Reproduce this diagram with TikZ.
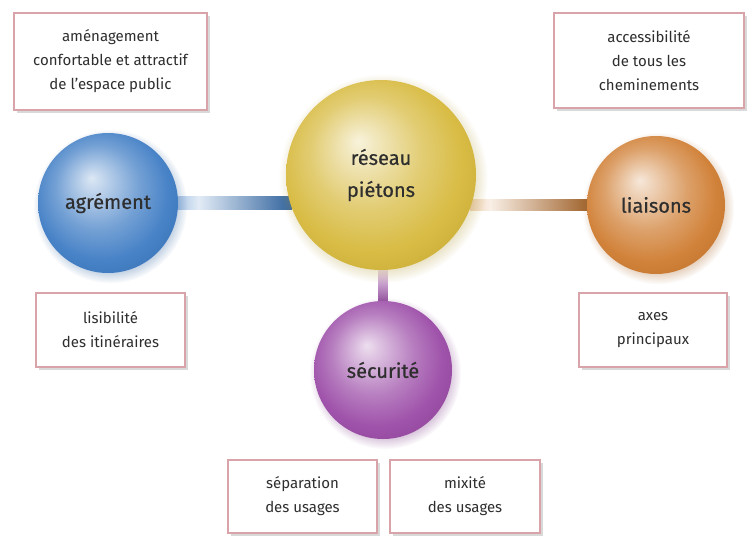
\documentclass[tikz,border=0pt]{standalone}
\usepackage{fontspec}
\setmainfont{Fira Sans}
\newfontfamily\sphfont{Fira Sans}[FakeBold=0.5]
\usetikzlibrary{shadows,backgrounds,calc}
\definecolor{cblue}{HTML}{3E7CC4}
\definecolor{cyel}{HTML}{D6B83A}
\definecolor{corange}{HTML}{CF7C30}
\definecolor{cpurple}{HTML}{9A4AA6}
\definecolor{cborder}{HTML}{D9A3AA}
\definecolor{ctext}{HTML}{2E2E2E}
\newcommand\mksph[2]{\pgfdeclareradialshading{#1}{\pgfpoint{-6bp}{9bp}}{color(0bp)=(#2!18!white); color(6bp)=(#2!40!white); color(15bp)=(#2!72!white); color(24bp)=(#2!95!white); color(33bp)=(#2!92!black); color(40bp)=(#2!85!black)}}
\mksph{sphblue}{cblue}
\mksph{sphyel}{cyel}
\mksph{sphorange}{corange}
\mksph{sphpurple}{cpurple}
\pgfdeclarehorizontalshading{barblue}{100bp}{color(0bp)=(cblue!50!white); color(25bp)=(cblue!50!white); color(36bp)=(cblue!15!white); color(75bp)=(cblue!80!black); color(100bp)=(cblue!80!black)}
\pgfdeclarehorizontalshading{barorange}{100bp}{color(0bp)=(corange!35!white); color(25bp)=(corange!35!white); color(33bp)=(corange!12!white); color(75bp)=(corange!75!black); color(100bp)=(corange!75!black)}
\pgfdeclareverticalshading{barpurple}{100bp}{color(0bp)=(cpurple!90!black); color(25bp)=(cpurple!90!black); color(62bp)=(cpurple!35!white); color(75bp)=(cpurple!12!white); color(100bp)=(cpurple!12!white)}
\tikzset{
  infobox/.style={draw=cborder, line width=1.3pt, fill=white, align=center, text=ctext,
    font=\fontsize{15}{24}\selectfont, inner sep=0pt,
    drop shadow={shadow xshift=3pt, shadow yshift=-3pt, opacity=0.3, fill=gray}},
  sphere/.style={circle, inner sep=0pt, shade, shading=#1, align=center, text=ctext,
    font=\sphfont\fontsize{20}{32}\selectfont},
  halo/.style={circular drop shadow={shadow xshift=2pt, shadow yshift=-3pt, shadow scale=1.1, fill=#1, opacity=0.35}}
}
\begin{document}
\begin{tikzpicture}[x=1pt,y=-1pt]
\useasboundingbox (0,0) rectangle (747,536);
% spheres
\node[sphere=sphyel, halo=cyel!70!gray, minimum size=190pt] (res) at (381,175) {réseau\\piétons};
\node[sphere=sphblue, halo=cblue!70!gray, minimum size=140pt] (agr) at (108,203) {agrément};
\node[sphere=sphorange, halo=corange!70!gray, minimum size=138pt] (lia) at (656,205) {liaisons};
\node[sphere=sphpurple, halo=cpurple!70!gray, minimum size=138pt] (sec) at (383,370) {sécurité};
% boxes
\node[infobox, minimum width=193pt, minimum height=97pt] (b1) at (110.5,61.5) {aménagement\\confortable et attractif\\de l'espace public};
\node[infobox, minimum width=190pt, minimum height=95pt] (b2) at (649,60.5) {accessibilité\\de tous les\\cheminements};
\node[infobox, minimum width=149pt, minimum height=74pt] (b3) at (110.5,330) {lisibilité\\des itinéraires};
\node[infobox, minimum width=148pt, minimum height=74pt] (b4) at (653,330) {axes\\principaux};
\node[infobox, minimum width=149pt, minimum height=73pt] (b5) at (302.5,496.5) {séparation\\des usages};
\node[infobox, minimum width=150pt, minimum height=73pt] (b6) at (465,496.5) {mixité\\des usages};
% connectors
\begin{pgfonlayer}{background}
\shade[shading=barblue] ($(agr.east)+(-6,-6.5)$) rectangle ($(agr.center -| res.west)+(6,6.5)$);
\shade[shading=barorange] ($(lia.center -| res.east)+(-6,-5.5)$) rectangle ($(lia.west)+(6,5.5)$);
\shade[shading=barpurple] ($(sec.north |- res.south)+(-4.5,-4)$) rectangle ($(sec.north)+(4.5,4)$);
\end{pgfonlayer}
\end{tikzpicture}
\end{document}
